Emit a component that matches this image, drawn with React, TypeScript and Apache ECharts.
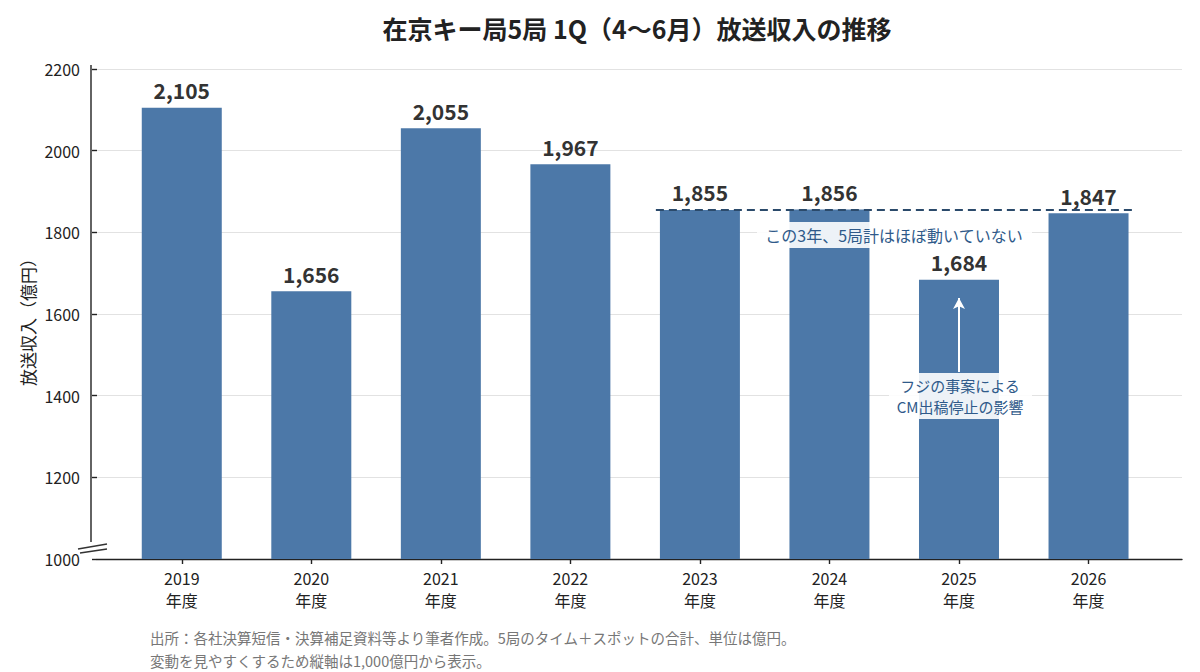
import React, { useEffect, useRef } from "react";
import * as echarts from "echarts";

// ---- data ----
const categories = ["2019", "2020", "2021", "2022", "2023", "2024", "2025", "2026"];
const categorySuffix = "年度";
const revenue = [2105, 1656, 2055, 1967, 1855, 1856, 1684, 1847];
const yMin = 1000;
const yMax = 2200;
const yInterval = 200;
const flatLevel = 1855;
const flatSpanX = [3.66, 7.34];
const arrowCategory = "2025";
const arrowFromValue = 1458;
const arrowToValue = 1639;

const titleText = "在京キー局5局 1Q（4〜6月）放送収入の推移";
const yAxisName = "放送収入（億円）";
const flatNote = "この3年、5局計はほぼ動いていない";
const fujiNote = "フジの事案による\nCM出稿停止の影響";
const footer1 = "出所：各社決算短信・決算補足資料等より筆者作成。5局のタイム＋スポットの合計、単位は億円。";
const footer2 = "変動を見やすくするため縦軸は1,000億円から表示。";

const FONT = "'Noto Sans CJK JP', 'Noto Sans', sans-serif";
const BAR = "#4c78a8";
const INK = "#222222";
const NOTE = "#2f5a8a";

export default function App() {
  const ref = useRef<HTMLDivElement>(null);

  useEffect(() => {
    if (!ref.current) return;
    const chart = echarts.init(ref.current, undefined, { renderer: "svg" });

    const option: any = {
      animation: false,
      backgroundColor: "#ffffff",
      textStyle: { fontFamily: FONT },
      title: {
        text: titleText,
        left: 632,
        top: 10,
        textAlign: "center",
        textStyle: { fontFamily: FONT, fontSize: 25, fontWeight: "bold", color: INK },
      },
      grid: [
        { left: 97, right: 18, top: 69, bottom: 113 },
        { left: 117, right: 46.7, top: 69, bottom: 113 },
      ],
      xAxis: [
        {
          gridIndex: 0,
          type: "value",
          min: 0,
          max: 1,
          axisLine: { show: true, lineStyle: { color: INK, width: 1.4 } },
          axisTick: { show: false },
          axisLabel: { show: false },
          splitLine: { show: false },
        },
        {
          gridIndex: 1,
          type: "category",
          data: categories,
          axisLine: { show: false },
          axisTick: { show: true, alignWithLabel: true, length: 5, lineStyle: { color: INK, width: 1.4 } },
          axisLabel: {
            fontFamily: FONT,
            fontSize: 16,
            lineHeight: 22,
            color: INK,
            margin: 8,
            formatter: (v: string) => `${v}\n${categorySuffix}`,
          },
          splitLine: { show: false },
        },
        {
          gridIndex: 1,
          type: "value",
          min: -0.5,
          max: 7.5,
          show: false,
        },
      ],
      yAxis: [
        {
          gridIndex: 0,
          type: "value",
          min: yMin,
          max: yMax,
          interval: yInterval,
          offset: 6,
          axisLine: { show: false },
          axisTick: { show: true, length: 5, lineStyle: { color: INK, width: 1.4 } },
          axisLabel: {
            fontFamily: FONT,
            fontSize: 16,
            color: INK,
            margin: 11,
            formatter: (v: number) => String(v),
          },
          splitLine: { show: true, lineStyle: { color: "#e2e2e2", width: 1 } },
        },
        {
          gridIndex: 1,
          type: "value",
          min: yMin,
          max: yMax,
          interval: yInterval,
          show: false,
          splitLine: { show: false },
        },
      ],
      series: [
        {
          type: "bar",
          xAxisIndex: 1,
          yAxisIndex: 1,
          data: revenue,
          barWidth: 80,
          itemStyle: { color: BAR },
          z: 2,
          label: {
            show: true,
            position: "top",
            distance: 7,
            fontFamily: FONT,
            fontSize: 21,
            fontWeight: "bold",
            color: "#333333",
            formatter: (p: any) => Number(p.value).toLocaleString("en-US"),
          },
          markLine: {
            silent: true,
            symbol: ["none", "arrow"],
            symbolSize: [9, 11],
            label: { show: false },
            lineStyle: { color: "#ffffff", width: 2, type: "solid" },
            data: [[{ coord: [arrowCategory, arrowFromValue] }, { coord: [arrowCategory, arrowToValue] }]],
          },
        },
        {
          type: "line",
          xAxisIndex: 2,
          yAxisIndex: 1,
          data: [
            [flatSpanX[0], flatLevel],
            [flatSpanX[1], flatLevel],
          ],
          symbol: "none",
          silent: true,
          z: 5,
          lineStyle: { color: "#2b4a6b", width: 2, type: [8, 5] },
        },
      ],
      graphic: [
        // y axis spine (broken at bottom)
        { type: "line", z: 50, shape: { x1: 91, y1: 65, x2: 91, y2: 542 }, style: { stroke: INK, lineWidth: 1.4 } },
        { type: "line", z: 50, shape: { x1: 78, y1: 549, x2: 107, y2: 544 }, style: { stroke: "#333", lineWidth: 1.3 } },
        { type: "line", z: 50, shape: { x1: 80, y1: 553, x2: 107, y2: 549 }, style: { stroke: "#333", lineWidth: 1.3 } },
        // y axis name
        {
          type: "text",
          z: 50,
          x: 27,
          y: 318,
          rotation: Math.PI / 2,
          style: {
            text: yAxisName,
            fontFamily: FONT,
            fontSize: 17,
            fill: INK,
            align: "center",
            verticalAlign: "middle",
          },
        },
        // flat note
        {
          type: "rect",
          z: 40,
          shape: { x: 757, y: 222, width: 275, height: 26 },
          style: { fill: "rgba(255,255,255,0.9)" },
        },
        {
          type: "text",
          z: 41,
          x: 894,
          y: 235,
          style: {
            text: flatNote,
            fontFamily: FONT,
            fontSize: 16,
            fill: NOTE,
            align: "center",
            verticalAlign: "middle",
          },
        },
        // fuji note
        {
          type: "rect",
          z: 40,
          shape: { x: 889, y: 373, width: 143, height: 46 },
          style: { fill: "rgba(255,255,255,0.9)" },
        },
        {
          type: "text",
          z: 41,
          x: 960,
          y: 396,
          style: {
            text: fujiNote,
            fontFamily: FONT,
            fontSize: 15,
            lineHeight: 21,
            fill: NOTE,
            align: "center",
            verticalAlign: "middle",
          },
        },
        // footer
        {
          type: "text",
          z: 50,
          x: 150,
          y: 637,
          style: { text: footer1, fontFamily: FONT, fontSize: 14.5, fill: "#777777", verticalAlign: "middle" },
        },
        {
          type: "text",
          z: 50,
          x: 150,
          y: 660,
          style: { text: footer2, fontFamily: FONT, fontSize: 14.5, fill: "#777777", verticalAlign: "middle" },
        },
      ],
    };

    chart.setOption(option);
    return () => chart.dispose();
  }, []);

  return (
    <div
      ref={ref}
      style={{ position: "fixed", left: 0, top: 0, width: 1200, height: 672, background: "#fff" }}
    />
  );
}
